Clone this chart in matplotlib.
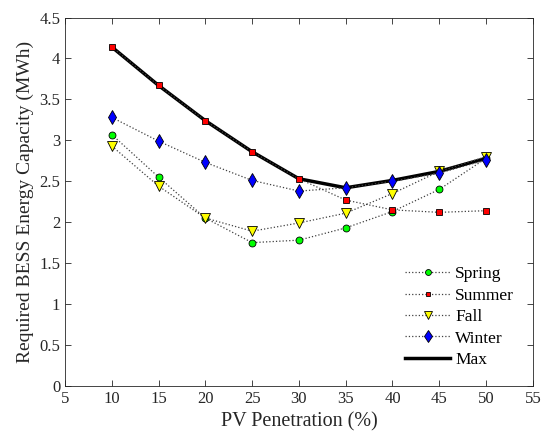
import matplotlib
matplotlib.use("Agg")
import matplotlib.pyplot as plt

plt.rcParams['font.family'] = ['Liberation Serif', 'DejaVu Serif']
plt.rcParams['mathtext.fontset'] = 'stix'

pv = [10, 15, 20, 25, 30, 35, 40, 45, 50]
spring = [3.07, 2.55, 2.05, 1.75, 1.78, 1.93, 2.13, 2.40, 2.78]
summer = [4.14, 3.67, 3.24, 2.86, 2.53, 2.27, 2.15, 2.12, 2.14]
fall = [2.93, 2.44, 2.05, 1.89, 1.99, 2.11, 2.35, 2.62, 2.80]
winter = [3.28, 2.99, 2.73, 2.51, 2.38, 2.42, 2.50, 2.60, 2.76]
maxcap = [4.14, 3.67, 3.24, 2.86, 2.53, 2.42, 2.51, 2.62, 2.78]

fig = plt.figure(figsize=(5.51, 4.38), dpi=100)
ax = fig.add_axes([0.118, 0.119, 0.849, 0.841])

dot = dict(linestyle=':', color='#404040', linewidth=0.9, markeredgecolor='black',
           markeredgewidth=0.6, zorder=3)
ax.plot(pv, spring, marker='o', markerfacecolor='#00ff00', markersize=5, label='Spring', **dot)
ax.plot(pv, summer, marker='s', markerfacecolor='#ff0000', markersize=4, label='Summer', **dot)
ax.plot(pv, fall, marker='v', markerfacecolor='#ffff00', markersize=7, label='Fall', **dot)
ax.plot(pv, winter, marker='d', markerfacecolor='#0000ff', markersize=7.5, label='Winter', **dot)
ax.plot(pv, maxcap, color='black', linewidth=2.5, label='Max', zorder=2)

ax.set_xlim(5, 55)
ax.set_ylim(0, 4.5)
ax.set_xticks(range(5, 56, 5))
ax.set_yticks([0, 0.5, 1, 1.5, 2, 2.5, 3, 3.5, 4, 4.5])
ax.set_yticklabels(['0', '0.5', '1', '1.5', '2', '2.5', '3', '3.5', '4', '4.5'])
ax.tick_params(direction='in', top=True, right=True, labelsize=12, length=4, width=0.6,
               colors='#262626')
for s in ax.spines.values():
    s.set_linewidth(0.6)
    s.set_color('#262626')

ax.set_xlabel('PV Penetration (%)', fontsize=14.5, color='#262626')
ax.set_ylabel('Required BESS Energy Capacity (MWh)', fontsize=14, color='#262626')

ax.legend(loc='lower right', frameon=False, fontsize=12.5, handlelength=2.6,
          labelspacing=0.3, borderaxespad=0.0, handletextpad=0.3, markerscale=0.85,
          bbox_to_anchor=(0.975, 0.03))

fig.savefig('out.png', dpi=100)
